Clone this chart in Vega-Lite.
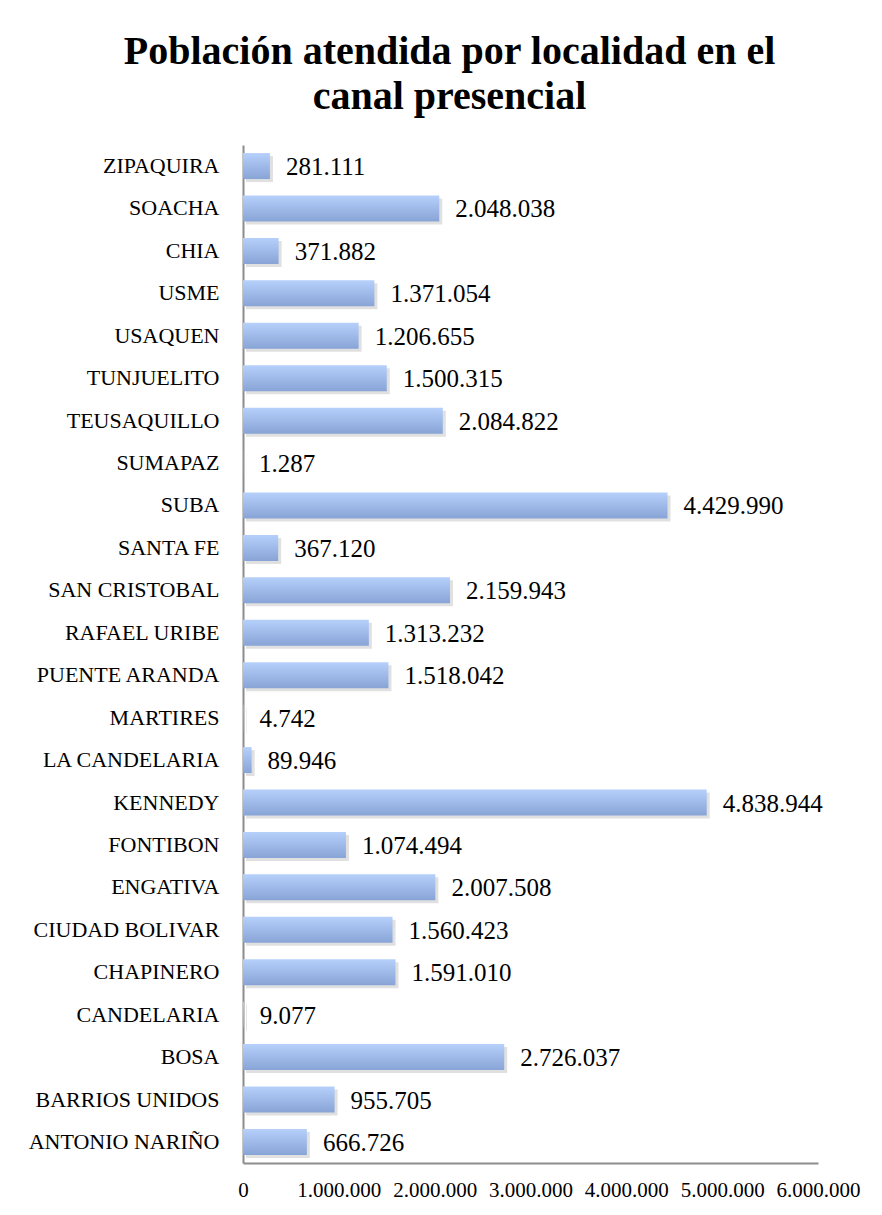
{
  "$schema": "https://vega.github.io/schema/vega-lite/v6.json",
  "autosize": "none",
  "width": 575,
  "height": 1018,
  "padding": {"left": 243, "top": 145, "right": 64, "bottom": 52},
  "background": "white",
  "title": {
    "text": ["Población atendida por localidad en el", "canal presencial"],
    "font": "Liberation Serif",
    "fontWeight": "bold",
    "fontSize": 40,
    "lineHeight": 45,
    "color": "black",
    "anchor": "middle",
    "dx": -81,
    "offset": 28
  },
  "config": {
    "view": {"stroke": null},
    "locale": {"number": {"decimal": ",", "thousands": ".", "grouping": [3], "currency": ["$", ""]}}
  },
  "data": {
    "values": [
      {"localidad": "ZIPAQUIRA", "valor": 281111},
      {"localidad": "SOACHA", "valor": 2048038},
      {"localidad": "CHIA", "valor": 371882},
      {"localidad": "USME", "valor": 1371054},
      {"localidad": "USAQUEN", "valor": 1206655},
      {"localidad": "TUNJUELITO", "valor": 1500315},
      {"localidad": "TEUSAQUILLO", "valor": 2084822},
      {"localidad": "SUMAPAZ", "valor": 1287},
      {"localidad": "SUBA", "valor": 4429990},
      {"localidad": "SANTA FE", "valor": 367120},
      {"localidad": "SAN CRISTOBAL", "valor": 2159943},
      {"localidad": "RAFAEL URIBE", "valor": 1313232},
      {"localidad": "PUENTE ARANDA", "valor": 1518042},
      {"localidad": "MARTIRES", "valor": 4742},
      {"localidad": "LA CANDELARIA", "valor": 89946},
      {"localidad": "KENNEDY", "valor": 4838944},
      {"localidad": "FONTIBON", "valor": 1074494},
      {"localidad": "ENGATIVA", "valor": 2007508},
      {"localidad": "CIUDAD BOLIVAR", "valor": 1560423},
      {"localidad": "CHAPINERO", "valor": 1591010},
      {"localidad": "CANDELARIA", "valor": 9077},
      {"localidad": "BOSA", "valor": 2726037},
      {"localidad": "BARRIOS UNIDOS", "valor": 955705},
      {"localidad": "ANTONIO NARIÑO", "valor": 666726}
    ]
  },
  "encoding": {
    "y": {
      "field": "localidad",
      "type": "nominal",
      "sort": null,
      "title": null,
      "scale": {"paddingInner": 0.387, "paddingOuter": 0.19},
      "axis": {
        "domainColor": "#8c8c8c",
        "domainWidth": 2,
        "ticks": false,
        "labelFont": "Liberation Serif",
        "labelFontSize": 22,
        "labelColor": "black",
        "labelPadding": 24,
        "labelLimit": 0
      }
    },
    "x": {
      "field": "valor",
      "type": "quantitative",
      "title": null,
      "scale": {"domain": [0, 6000000], "nice": false},
      "axis": {
        "values": [0, 1000000, 2000000, 3000000, 4000000, 5000000, 6000000],
        "format": ",d",
        "grid": false,
        "ticks": false,
        "domainColor": "#8c8c8c",
        "domainWidth": 2,
        "labelFont": "Liberation Serif",
        "labelFontSize": 21,
        "labelColor": "black",
        "labelPadding": 16,
        "labelFlush": false,
        "labelOverlap": false
      }
    }
  },
  "layer": [
    {
      "mark": {"type": "bar", "color": "#000000", "opacity": 0.12, "xOffset": 3, "yOffset": 3}
    },
    {
      "mark": {
        "type": "bar",
        "color": {
          "gradient": "linear",
          "x1": 0, "y1": 0, "x2": 0, "y2": 1,
          "stops": [
            {"offset": 0, "color": "#b6d0fb"},
            {"offset": 1, "color": "#88a4d6"}
          ]
        }
      }
    },
    {
      "mark": {"type": "text", "align": "left", "baseline": "middle", "dx": 16, "dy": 1, "font": "Liberation Serif", "fontSize": 25, "color": "black"},
      "encoding": {"text": {"field": "valor", "type": "quantitative", "format": ",d"}}
    }
  ]
}
